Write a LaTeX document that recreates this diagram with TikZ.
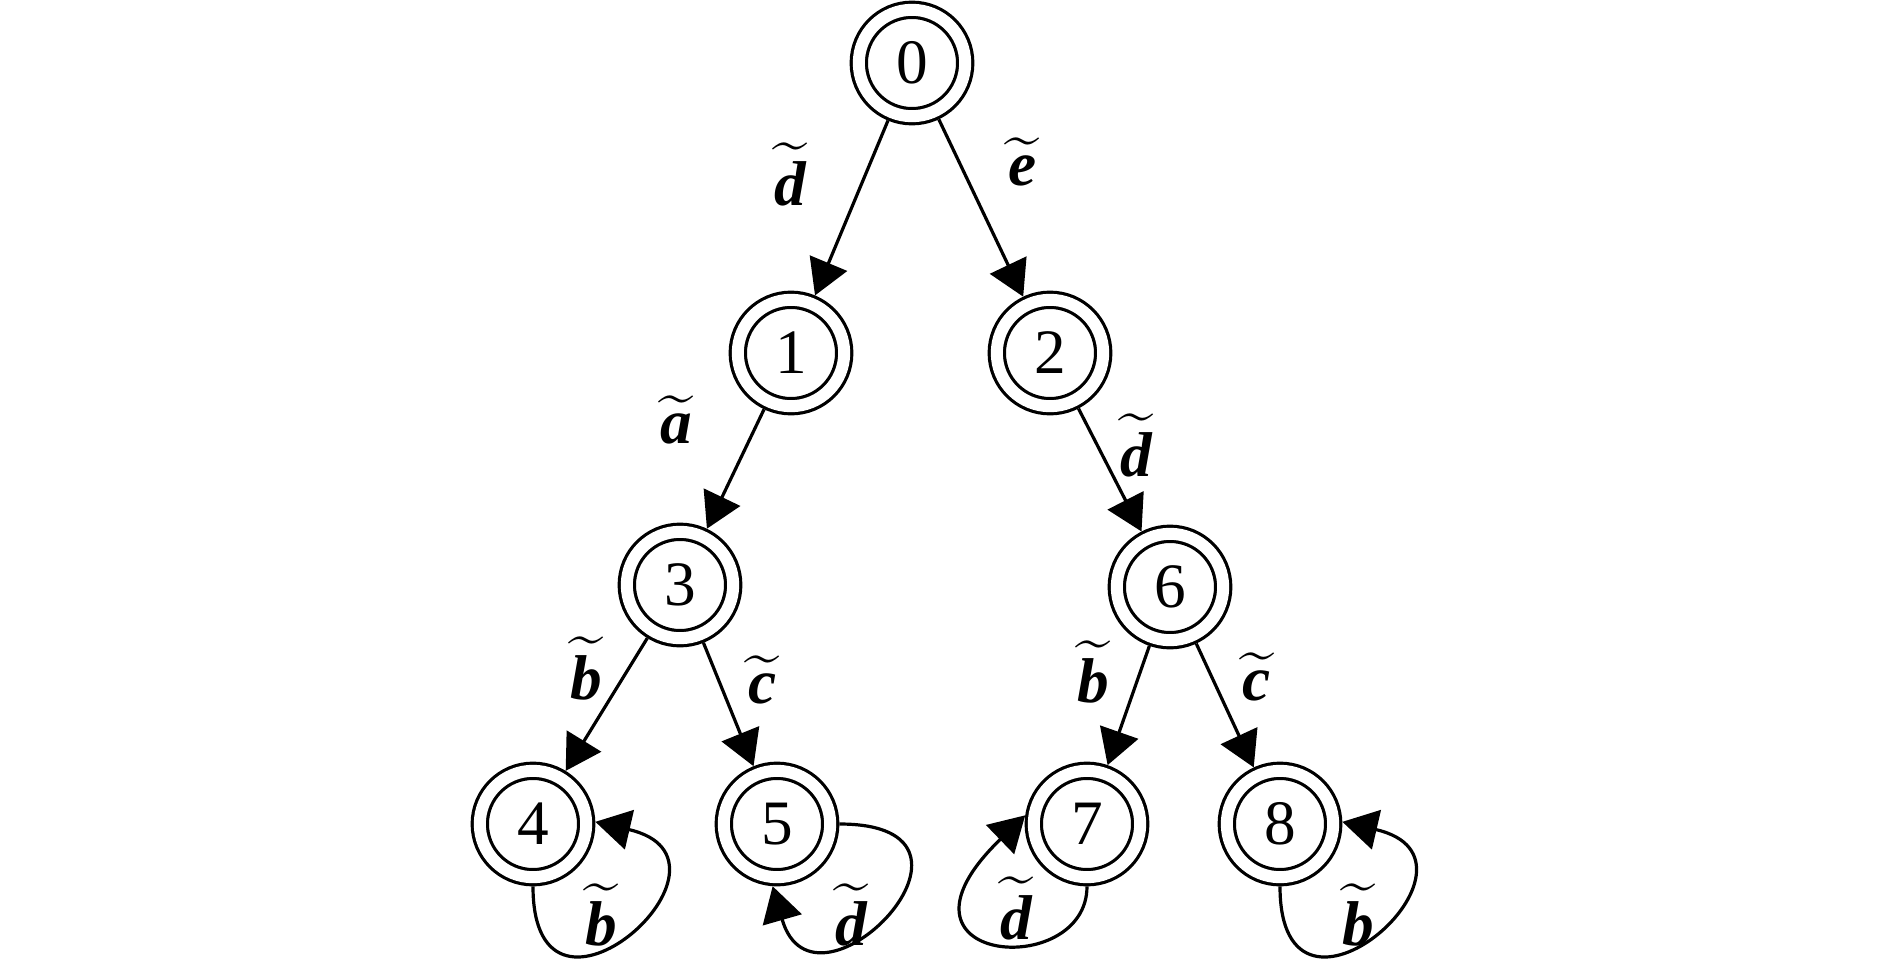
\documentclass[tikz,border=0pt]{standalone}
\usepackage{fontspec}
\setmainfont{Liberation Serif}
\DeclareFontShape{OMX}{cmex}{m}{n}{<-> cmex10}{}
\usetikzlibrary{automata, positioning, arrows.meta}
\tikzset{
  ->,
  >={Triangle[length=3.5mm, width=4mm]},
  node distance=2.9cm,
  every state/.style={minimum size=10.64mm, inner sep=0pt, font=\fontsize{18}{20}\selectfont},
  accepting/.style={double, double distance=1.2mm, outer sep=0.92mm},
  lbl/.style={inner sep=0pt, font=\fontsize{18}{20}\selectfont},
}
\newcommand{\tlab}[1]{$\widetilde{\mbox{\bfseries\itshape #1}}$}

\begin{document}
\begin{tikzpicture}[line width=0.32mm]
      \useasboundingbox (0,0) rectangle (18.9,9.66);
      \node[state,accepting] (n0) at (9.12,9.03) {0};
      \node[state,accepting,on grid,below left=2.9cm and 1.21cm of n0]  (n1) {1};
      \node[state,accepting,on grid,below right=2.9cm and 1.38cm of n0] (n2) {2};
      \node[state,accepting,on grid,below left=2.32cm and 1.11cm of n1] (n3) {3};
      \node[state,accepting,on grid,below right=2.34cm and 1.2cm of n2] (n6) {6};
      \node[state,accepting,on grid,below left=2.39cm and 1.47cm of n3] (n4) {4};
      \node[state,accepting,on grid,below right=2.39cm and 0.97cm of n3] (n5) {5};
      \node[state,accepting,on grid,below left=2.37cm and 0.83cm of n6] (n7) {7};
      \node[state,accepting,on grid,below right=2.37cm and 1.1cm of n6] (n8) {8};

      \path (n0) edge node[lbl,pos=.31,xshift=-7.5mm] {\tlab{d}} (n1)
            (n0) edge node[lbl,pos=.24,xshift=6.3mm]  {\tlab{e}} (n2)
            (n1) edge node[lbl,pos=.09,xshift=-8.3mm] {\tlab{a}} (n3)
            (n3) edge node[lbl,pos=.23,xshift=-4.2mm] {\tlab{b}} (n4)
            (n3) edge node[lbl,pos=.30,xshift=4.4mm]  {\tlab{c}} (n5)
            (n2) edge node[lbl,pos=.30,xshift=3.9mm]  {\tlab{d}} (n6)
            (n6) edge node[lbl,pos=.22,xshift=-4.7mm] {\tlab{b}} (n7)
            (n6) edge node[lbl,pos=.27,xshift=4.5mm]  {\tlab{c}} (n8);

      \path (n4.-90) edge[out=-90,in=-13,out distance=17.5mm,in distance=16.9mm]
                node[lbl,xshift=-2.5mm,yshift=1.9mm] {\tlab{b}} (n4.2)
            (n5.0) edge[out=0,in=-74,out distance=17.8mm,in distance=15.2mm]
                node[lbl,xshift=-3.7mm,yshift=-0.5mm] {\tlab{d}} (n5.-94)
            (n7.-90) edge[out=-90,in=-136,out distance=9.5mm,in distance=21.5mm]
                node[lbl,xshift=1.8mm,yshift=3.4mm] {\tlab{d}} (n7.172)
            (n8.-90) edge[out=-90,in=-13,out distance=17.5mm,in distance=16.9mm]
                node[lbl,xshift=-1.5mm,yshift=1.9mm] {\tlab{b}} (n8.2);
\end{tikzpicture}
\end{document}
